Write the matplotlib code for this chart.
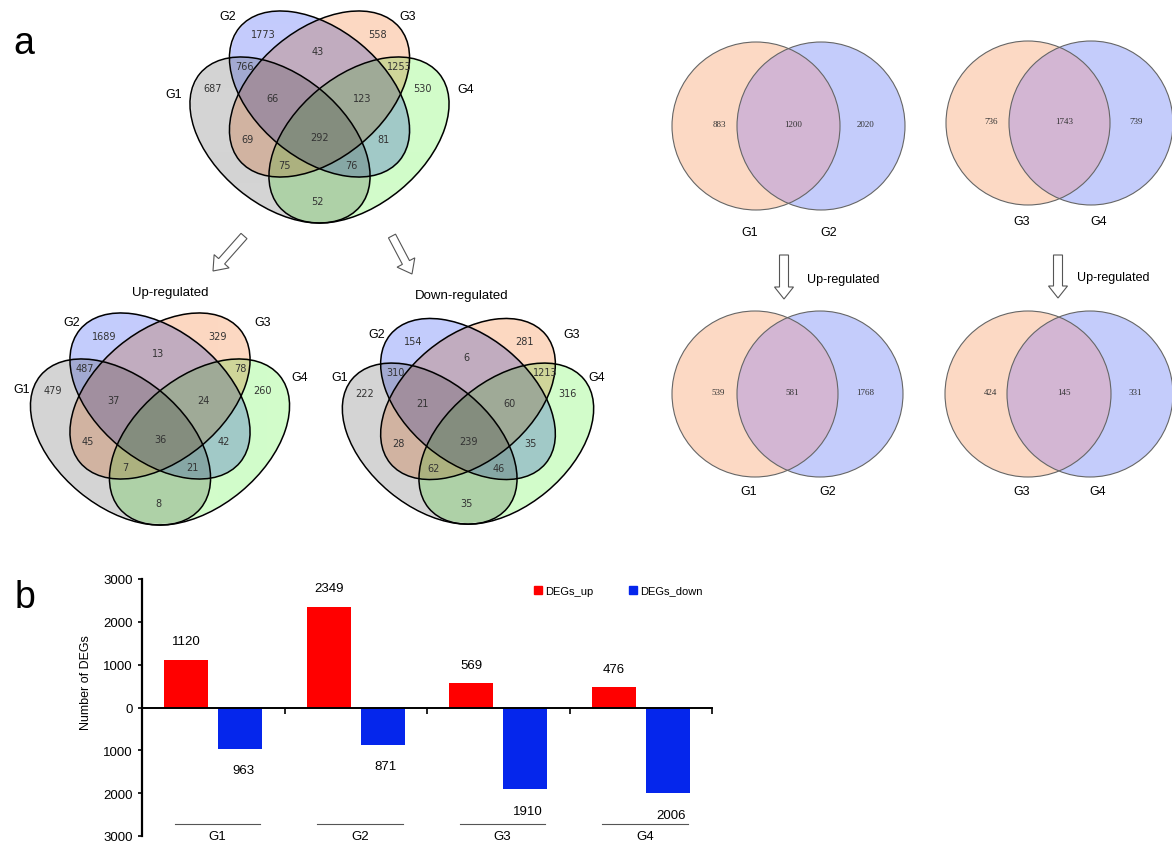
import numpy as np
import matplotlib
matplotlib.use('Agg')
import matplotlib.pyplot as plt
from matplotlib.patches import Ellipse, Circle, FancyArrow, Patch
from matplotlib.ticker import FuncFormatter

plt.rcParams['font.family'] = ['Liberation Sans', 'DejaVu Sans']

# ---------------- data ----------------
# 4-set venn regions (same order for every diagram)
regions4 = ['G2', 'G3', 'G2G3', 'G1G2', 'G3G4', 'G1', 'G4', 'G1G2G3',
            'G2G3G4', 'G1G3', 'G1G2G3G4', 'G2G4', 'G1G3G4', 'G1G2G4', 'G1G4']
all_counts = [1773, 558, 43, 766, 1253, 687, 530, 66, 123, 69, 292, 81, 75, 76, 52]
up_counts = [1689, 329, 13, 487, 78, 479, 260, 37, 24, 45, 36, 42, 7, 21, 8]
down_counts = [154, 281, 6, 310, 1213, 222, 316, 21, 60, 28, 239, 35, 62, 46, 35]

# 2-set venns: (left only, both, right only)
pair_names = [('G1', 'G2'), ('G3', 'G4'), ('G1', 'G2'), ('G3', 'G4')]
pair_counts = [[883, 1200, 2020], [736, 1743, 739], [539, 581, 1768], [424, 145, 331]]

# bar chart
groups = ['G1', 'G2', 'G3', 'G4']
degs_up = [1120, 2349, 569, 476]
degs_down = [963, 871, 1910, 2006]

# ---------------- layout ----------------
W, H = 1172, 845
fig = plt.figure(figsize=(W / 100, H / 100), dpi=100)
ax0 = fig.add_axes([0, 0, 1, 1])

# ellipse shape in pixels (semi axes, tilt) and centres relative to venn origin
A, B, TH = 104, 64.7, 39.7
ell = {'G1': (-39.5, 46, TH), 'G2': (0, 0, TH), 'G3': (0, 0, -TH), 'G4': (39.5, 46, -TH)}
base_col = {'G1': (212, 212, 212), 'G2': (196, 204, 252),
            'G3': (252, 216, 194), 'G4': (210, 252, 202)}
txt_off = {'G2': (-56, -60), 'G3': (58, -60), 'G2G3': (-2, -43), 'G1G2': (-75, -28),
           'G3G4': (80, -28), 'G1': (-107, -6), 'G4': (103, -6), 'G1G2G3': (-47, 4),
           'G2G3G4': (43, 4), 'G1G3': (-72, 45), 'G1G2G3G4': (0, 43), 'G2G4': (64, 45),
           'G1G3G4': (-35, 71), 'G1G2G4': (32, 71), 'G1G4': (-2, 107)}


def venn4(ox, oy, s, counts, set_lab_off):
    xs = np.arange(ox - 180, ox + 180, 0.5)
    ys = np.arange(oy - 110, oy + 145, 0.5)
    X, Y = np.meshgrid(xs, ys)
    rgb = np.ones(X.shape + (3,))
    anyin = np.zeros(X.shape, bool)
    for g in ['G1', 'G2', 'G3', 'G4']:
        dx0, dy0, th = ell[g]
        t = np.radians(th)
        dx = X - (ox + dx0 * s)
        dy = Y - (oy + dy0 * s)
        u = dx * np.cos(t) + dy * np.sin(t)
        v = -dx * np.sin(t) + dy * np.cos(t)
        inside = (u / (A * s)) ** 2 + (v / (B * s)) ** 2 <= 1
        rgb[inside] *= np.array(base_col[g]) / 255.0
        anyin |= inside
    img = np.dstack([rgb, anyin.astype(float)])
    ax0.imshow(img, extent=(xs[0], xs[-1], ys[-1], ys[0]), aspect='auto',
               interpolation='bilinear', zorder=1)
    for g in ['G1', 'G2', 'G3', 'G4']:
        dx0, dy0, th = ell[g]
        ax0.add_patch(Ellipse((ox + dx0 * s, oy + dy0 * s), 2 * A * s, 2 * B * s,
                              angle=th, fill=False, ec='black', lw=1.1, zorder=2))
    for r, c in zip(regions4, counts):
        tx, ty = txt_off[r]
        ax0.text(ox + tx * s, oy + ty * s, str(c), fontsize=7, family='DejaVu Sans',
                 color='#333333', ha='center', va='center', zorder=3)
    for g, (lx, ly) in zip(['G1', 'G2', 'G3', 'G4'], set_lab_off):
        ax0.text(ox + lx, oy + ly, g, fontsize=9, ha='center', va='center', zorder=3)


venn4(319.5, 95, 1.0, all_counts, [(-146, 0), (-92, -78), (88, -78), (146, -5)])
venn4(160, 397, 1.0, up_counts, [(-138, -7), (-88, -74), (103, -74), (140, -19)])
venn4(468, 400, 0.97, down_counts, [(-128, -22), (-91, -65), (104, -65), (129, -22)])

ax0.text(170, 293, 'Up-regulated', fontsize=9.5, ha='center', va='center')
ax0.text(462, 296, 'Down-regulated', fontsize=9.5, ha='center', va='center')


def hollow_arrow(x0, y0, x1, y1, w=8, hw=20, hl=13):
    ax0.add_patch(FancyArrow(x0, y0, x1 - x0, y1 - y0, width=w, head_width=hw,
                             head_length=hl, length_includes_head=True,
                             fc='white', ec='#555555', lw=0.8, zorder=2))


hollow_arrow(244, 237, 213, 272)
hollow_arrow(392, 237, 412, 275)
hollow_arrow(784, 256, 784, 300, w=9, hw=19, hl=12)
hollow_arrow(1058, 256, 1058, 299, w=9, hw=19, hl=12)
ax0.text(807, 280, 'Up-regulated', fontsize=9, ha='left', va='center')
ax0.text(1077, 278, 'Up-regulated', fontsize=9, ha='left', va='center')

# 2-set venns
pair_geom = [(756, 821, 127, 84, 233), (1028, 1091, 124, 82, 222),
             (755, 820, 395, 83, 492), (1028, 1090, 395, 83, 492)]
for (n1, n2), cnt, (c1, c2, cy, r, ly) in zip(pair_names, pair_counts, pair_geom):
    a = Circle((c1, cy), r, fc='#fcd9c4', ec='none', zorder=1)
    b = Circle((c2, cy), r, fc='#c4ccfb', ec='none', zorder=1)
    ax0.add_patch(a)
    ax0.add_patch(b)
    ov = Circle((c2, cy), r, fc='#d3b6d3', ec='none', zorder=1.5)
    ax0.add_patch(ov)
    ov.set_clip_path(a)
    for c in (c1, c2):
        ax0.add_patch(Circle((c, cy), r, fill=False, ec='#666666', lw=0.8, zorder=2))
    ax0.text(c1 - 37, cy - 2, str(cnt[0]), fontsize=6.5, family='Liberation Serif',
             ha='center', va='center', color='#333333')
    ax0.text((c1 + c2) / 2 + 5, cy - 2, str(cnt[1]), fontsize=6.5, family='Liberation Serif',
             ha='center', va='center', color='#333333')
    ax0.text(c2 + 45, cy - 2, str(cnt[2]), fontsize=6.5, family='Liberation Serif',
             ha='center', va='center', color='#333333')
    ax0.text(c1 - 6, ly, n1, fontsize=9, ha='center', va='center')
    ax0.text(c2 + 8, ly, n2, fontsize=9, ha='center', va='center')

ax0.text(24, 44, 'a', fontsize=27, ha='center', va='center')
ax0.text(25, 598, 'b', fontsize=27, ha='center', va='center')

ax0.set_xlim(0, W)
ax0.set_ylim(H, 0)
ax0.axis('off')

# ---------------- bar chart ----------------
ax = fig.add_axes([142 / W, 8 / H, 570 / W, 257 / H])
x = np.arange(len(groups))
bw = 0.31
ax.bar(x - 0.19, degs_up, bw, color='#ff0000', label='DEGs_up')
ax.bar(x + 0.19, [-v for v in degs_down], bw, color='#0526ec', label='DEGs_down')

for i in range(len(groups)):
    ax.text(x[i] - 0.19, degs_up[i] + 430, str(degs_up[i]), fontsize=9.5,
            ha='center', va='center')
    ax.text(x[i] + 0.21, -degs_down[i] - 500, str(degs_down[i]), fontsize=9.5,
            ha='center', va='center')
    ax.plot([x[i] - 0.27, x[i] + 0.33], [-2720, -2720], color='#555555', lw=0.8,
            clip_on=False)
    ax.text(x[i] + 0.03, -3000, groups[i], fontsize=9.5, ha='center', va='center',
            clip_on=False)

ax.set_xlim(-0.5, 3.5)
ax.set_ylim(-3000, 3000)
ax.set_yticks(np.arange(-3000, 3001, 1000))
ax.yaxis.set_major_formatter(FuncFormatter(lambda v, p: str(abs(int(v)))))
ax.set_xticks(np.arange(-0.5, 3.6, 1))
ax.set_xticklabels([])
ax.tick_params(axis='x', length=4, width=1.2, direction='out')
ax.tick_params(axis='y', length=3, width=1.2, labelsize=9.5)
ax.spines['top'].set_visible(False)
ax.spines['right'].set_visible(False)
ax.spines['bottom'].set_position(('data', 0))
ax.spines['bottom'].set_linewidth(1.4)
ax.spines['left'].set_linewidth(1.6)
ax.set_ylabel('Number of DEGs', fontsize=9)
ax.yaxis.set_label_coords(-0.088, 0.6)
ax.patch.set_alpha(0)

handles = [Patch(color='#ff0000', label='DEGs_up'), Patch(color='#0526ec', label='DEGs_down')]
ax.legend(handles=handles, loc='center left', bbox_to_anchor=(0.67, 0.955), ncol=2,
          frameon=False, fontsize=8, handlelength=0.7, handleheight=0.7,
          handletextpad=0.3, columnspacing=3.2)

fig.savefig('out.png', dpi=100)
